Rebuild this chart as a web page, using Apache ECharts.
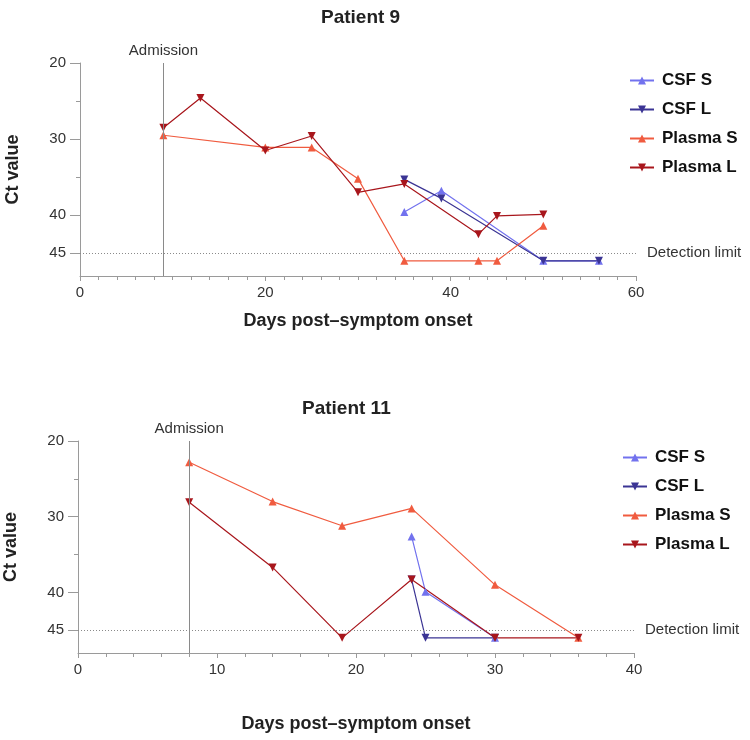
<!DOCTYPE html>
<html>
<head>
<meta charset="utf-8">
<script src="https://cdn.jsdelivr.net/npm/echarts@6/dist/echarts.min.js"></script>
<style>
  html, body { margin: 0; padding: 0; background: #fff; }
  #chart { width: 750px; height: 740px; }
</style>
</head>
<body>
<div id="chart"></div>
<script>
// Patient 9: [day, Ct]
const p9CsfS = [[35, 39.6], [39, 36.8], [50, 46], [56, 46]];
const p9CsfL = [[35, 35.3], [39, 37.8], [50, 46], [56, 46]];
const p9PlasmaS = [[9, 29.5], [20, 31.1], [25, 31.1], [30, 35.2], [35, 46], [43, 46], [45, 46], [50, 41.4]];
const p9PlasmaL = [[9, 28.5], [13, 24.6], [20, 31.5], [25, 29.6], [30, 37], [35, 35.9], [43, 42.5], [45, 40.1], [50, 39.9]];

// Patient 11: [day, Ct]
const p11CsfS = [[24, 32.6], [25, 39.9], [30, 46]];
const p11CsfL = [[24, 38.3], [25, 46], [30, 46]];
const p11PlasmaS = [[8, 22.8], [14, 28], [19, 31.2], [24, 28.9], [30, 39], [36, 46]];
const p11PlasmaL = [[8, 28.1], [14, 36.7], [19, 46], [24, 38.3], [30, 46], [36, 46]];

const seriesNames = ['CSF S', 'CSF L', 'Plasma S', 'Plasma L'];
const seriesColors = ['#7272ee', '#3b3494', '#f05b3f', '#a8161c'];
const admissionDay = [9, 8];
const detectionLimit = 45;
const yLabels = [20, 30, 40, 45];
const yMinorTicks = [25, 35];

const font = '"Liberation Sans", Arial, Helvetica, sans-serif';
const axisGray = '#9a9a9a';

let myChart = echarts.init(document.getElementById('chart'));

function makeX(grid, max, interval, nameGap) {
  return {
    type: 'value', gridIndex: grid, min: 0, max: max, interval: interval,
    name: 'Days post–symptom onset', nameLocation: 'middle', nameGap: nameGap,
    nameTextStyle: { fontFamily: font, fontWeight: 'bold', fontSize: 18, color: '#222' },
    axisLine: { onZero: false, lineStyle: { color: axisGray } },
    axisTick: { length: 5, lineStyle: { color: axisGray } },
    minorTick: { show: true, splitNumber: interval / 2, length: 4, lineStyle: { color: axisGray } },
    axisLabel: { fontFamily: font, fontSize: 15, color: '#333', margin: 9 },
    splitLine: { show: false }
  };
}

function makeY(grid) {
  return {
    type: 'value', gridIndex: grid, inverse: true, min: 20, max: 48, interval: 5,
    position: 'left',
    name: 'Ct value', nameLocation: 'middle', nameGap: 58, nameRotate: 90,
    nameTextStyle: { fontFamily: font, fontWeight: 'bold', fontSize: 18, color: '#222' },
    axisLine: { show: true, lineStyle: { color: axisGray } },
    axisTick: { length: 10, customValues: yLabels, lineStyle: { color: axisGray } },
    axisLabel: { fontFamily: font, fontSize: 15, color: '#333', margin: 14, customValues: yLabels },
    splitLine: { show: false }
  };
}

function makeYMinor(grid) {
  return {
    type: 'value', gridIndex: grid, inverse: true, min: 20, max: 48, interval: 5,
    position: 'left',
    axisLine: { show: false },
    axisTick: { length: 4, customValues: yMinorTicks, lineStyle: { color: axisGray } },
    axisLabel: { show: false },
    splitLine: { show: false }
  };
}

function makeSeries(grid, datasets) {
  return datasets.map((d, i) => {
    let s = {
      name: seriesNames[i], type: 'line', xAxisIndex: grid, yAxisIndex: grid * 2,
      data: d, symbol: 'triangle', symbolSize: 8,
      symbolRotate: i % 2 === 1 ? 180 : 0,
      lineStyle: { width: 1.2, color: seriesColors[i] },
      itemStyle: { color: seriesColors[i] },
      z: 3
    };
    if (i === 0) {
      s.markLine = {
        silent: true, symbol: ['none', 'none'],
        data: [
          {
            xAxis: admissionDay[grid],
            lineStyle: { type: 'solid', color: '#8a8a8a', width: 1 },
            label: { show: true, position: 'start', formatter: 'Admission', distance: 5,
              fontFamily: font, fontSize: 15, color: '#333' }
          },
          {
            yAxis: detectionLimit,
            lineStyle: { type: [1, 2], color: '#8a8a8a', width: 1 },
            label: { show: true, position: 'end', formatter: 'Detection limit', distance: 11,
              fontFamily: font, fontSize: 15, color: '#333' }
          }
        ]
      };
    }
    return s;
  });
}

function makeLegend(left, top) {
  return {
    orient: 'vertical', left: left, top: top, itemGap: 12,
    itemWidth: 24, itemHeight: 10,
    data: seriesNames,
    textStyle: { fontFamily: font, fontWeight: 'bold', fontSize: 17, color: '#111', padding: [0, 0, 0, 3] }
  };
}

let option = {
  animation: false,
  title: [
    { text: 'Patient 9', left: 316, top: 3,
      textStyle: { fontFamily: font, fontWeight: 'bold', fontSize: 19, color: '#222' } },
    { text: 'Patient 11', left: 297, top: 394,
      textStyle: { fontFamily: font, fontWeight: 'bold', fontSize: 19, color: '#222' } }
  ],
  legend: [makeLegend(624, 67), makeLegend(617, 444)],
  grid: [
    { left: 80, top: 63, width: 556, height: 213, outerBoundsMode: 'none' },
    { left: 78, top: 441, width: 556, height: 212, outerBoundsMode: 'none' }
  ],
  xAxis: [makeX(0, 60, 20, 36), makeX(1, 40, 10, 62)],
  yAxis: [makeY(0), makeYMinor(0), makeY(1), makeYMinor(1)],
  series: [].concat(
    makeSeries(0, [p9CsfS, p9CsfL, p9PlasmaS, p9PlasmaL]),
    makeSeries(1, [p11CsfS, p11CsfL, p11PlasmaS, p11PlasmaL])
  )
};

myChart.setOption(option);
</script>
</body>
</html>
